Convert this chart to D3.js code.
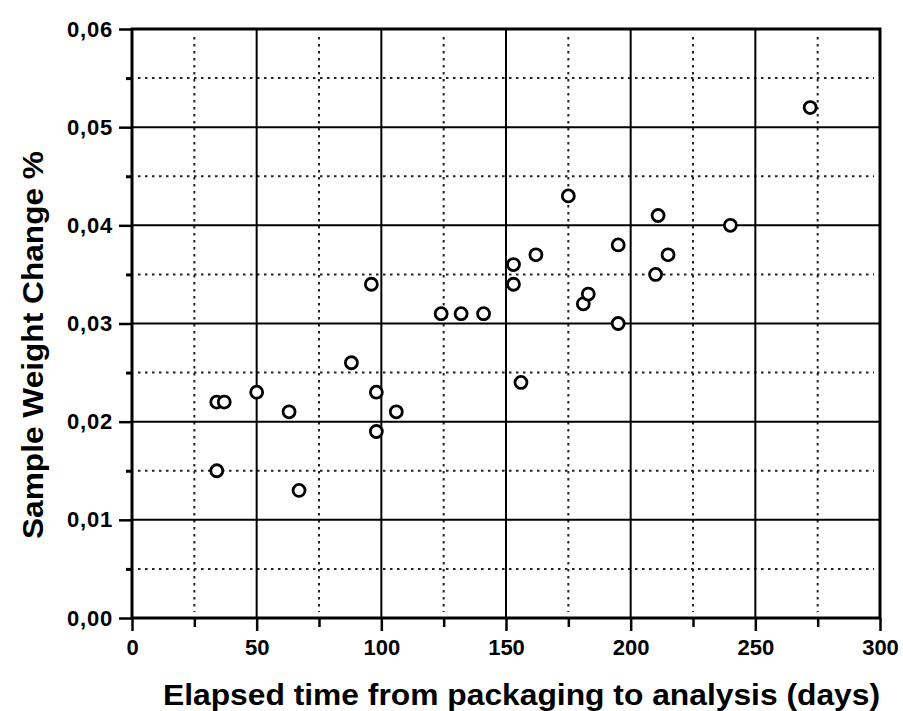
<!DOCTYPE html>
<meta charset="utf-8">
<body style="margin:0;background:#fff">
<script src="https://d3js.org/d3.v7.min.js"></script>
<script>
// data
var days = [34, 34, 37, 50, 63, 67, 88, 96, 98, 98, 106, 124, 132, 141, 153, 153, 156, 162, 175, 181, 183, 195, 195, 211, 210, 215, 240, 272];
var weightChange = [0.015, 0.022, 0.022, 0.023, 0.021, 0.013, 0.026, 0.034, 0.023, 0.019, 0.021, 0.031, 0.031, 0.031,
                    0.036, 0.034, 0.024, 0.037, 0.043, 0.032, 0.033, 0.038, 0.030, 0.041, 0.035, 0.037, 0.040, 0.052];
var xTicks = [0, 50, 100, 150, 200, 250, 300];
var xMinor = [25, 75, 125, 175, 225, 275];
var yTicks = [0, 0.01, 0.02, 0.03, 0.04, 0.05, 0.06];
var yMinor = [0.005, 0.015, 0.025, 0.035, 0.045, 0.055];
var yTickLabels = ["0,00", "0,01", "0,02", "0,03", "0,04", "0,05", "0,06"];

var points = days.map(function(d, i) { return {x: d, y: weightChange[i]}; });

var W = 903, H = 711;
var x = d3.scaleLinear().domain([0, 300]).range([132, 880]);
var y = d3.scaleLinear().domain([0, 0.06]).range([618, 29]);

var svg = d3.select("body").append("svg")
    .attr("width", W).attr("height", H)
    .style("font-family", "'Liberation Sans', Arial, sans-serif");

// dotted minor grid
var grid = svg.append("g");
grid.selectAll(".vminor").data(xMinor).enter().append("line")
    .attr("x1", function(d) { return x(d); }).attr("x2", function(d) { return x(d); })
    .attr("y1", y(0.06) + 8).attr("y2", y(0) - 6)
    .attr("stroke", "#222").attr("stroke-width", 2).attr("stroke-dasharray", "2.5,4.5");
grid.selectAll(".hminor").data(yMinor).enter().append("line")
    .attr("x1", x(0) + 6).attr("x2", x(300) - 6)
    .attr("y1", function(d) { return y(d); }).attr("y2", function(d) { return y(d); })
    .attr("stroke", "#222").attr("stroke-width", 2).attr("stroke-dasharray", "2.5,4.5");

// solid major grid
grid.selectAll(".vmajor").data(xTicks.slice(1, -1)).enter().append("line")
    .attr("x1", function(d) { return x(d); }).attr("x2", function(d) { return x(d); })
    .attr("y1", y(0.06)).attr("y2", y(0))
    .attr("stroke", "#000").attr("stroke-width", 2);
grid.selectAll(".hmajor").data(yTicks.slice(1, -1)).enter().append("line")
    .attr("x1", x(0)).attr("x2", x(300))
    .attr("y1", function(d) { return y(d); }).attr("y2", function(d) { return y(d); })
    .attr("stroke", "#000").attr("stroke-width", 2);

// frame
svg.append("rect")
    .attr("x", x(0)).attr("y", y(0.06))
    .attr("width", x(300) - x(0)).attr("height", y(0) - y(0.06))
    .attr("fill", "none").attr("stroke", "#000").attr("stroke-width", 3);

// axes
var xAxis = svg.append("g").attr("transform", "translate(0," + y(0) + ")")
    .call(d3.axisBottom(x).tickValues(xTicks).tickSize(13).tickPadding(8).tickFormat(d3.format("d")));
xAxis.select(".domain").remove();
xAxis.selectAll("line").attr("stroke-width", 2.5);
xAxis.selectAll("text").style("font-size", "22px").style("font-weight", "bold").attr("fill", "#000");
var xAxisMinor = svg.append("g").attr("transform", "translate(0," + y(0) + ")")
    .call(d3.axisBottom(x).tickValues(xMinor).tickSize(9).tickFormat(""));
xAxisMinor.select(".domain").remove();
xAxisMinor.selectAll("line").attr("stroke-width", 2.5);

var yAxis = svg.append("g").attr("transform", "translate(" + x(0) + ",0)")
    .call(d3.axisLeft(y).tickValues(yTicks).tickSize(13).tickPadding(6)
        .tickFormat(function(d, i) { return yTickLabels[i]; }));
yAxis.select(".domain").remove();
yAxis.selectAll("line").attr("stroke-width", 2.5);
yAxis.selectAll("text").style("font-size", "22px").style("font-weight", "bold")
    .style("letter-spacing", "0.8px").attr("fill", "#000");
var yAxisMinor = svg.append("g").attr("transform", "translate(" + x(0) + ",0)")
    .call(d3.axisLeft(y).tickValues(yMinor).tickSize(6).tickFormat(""));
yAxisMinor.select(".domain").remove();
yAxisMinor.selectAll("line").attr("stroke-width", 3);

// points
svg.selectAll(".pt").data(points).enter().append("circle")
    .attr("cx", function(d) { return x(d.x); })
    .attr("cy", function(d) { return y(d.y); })
    .attr("r", 6)
    .attr("fill", "#fff").attr("stroke", "#000").attr("stroke-width", 2.8);

// axis titles
svg.append("text")
    .attr("x", 163).attr("y", 705)
    .attr("textLength", 717).attr("lengthAdjust", "spacingAndGlyphs")
    .style("font-size", "30px").style("font-weight", "bold")
    .text("Elapsed time from packaging to analysis (days)");

svg.append("text")
    .attr("transform", "translate(43,345) rotate(-90)")
    .attr("text-anchor", "middle")
    .attr("textLength", 388).attr("lengthAdjust", "spacingAndGlyphs")
    .style("font-size", "30px").style("font-weight", "bold")
    .text("Sample Weight Change %");
</script>
</body>
